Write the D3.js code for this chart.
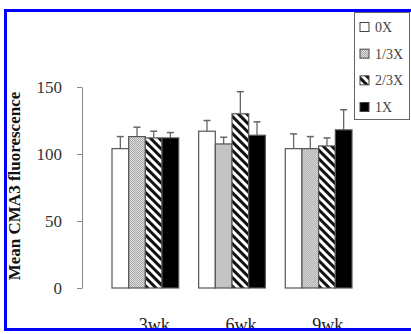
<!DOCTYPE html>
<html>
<head>
<meta charset="utf-8">
<script src="https://d3js.org/d3.v7.min.js"></script>
<style>
    body { margin: 0; background: white; }
    svg { display: block; }
    text { font-family: "Liberation Serif", "Times New Roman", serif; }
</style>
</head>
<body>
<svg id="chart" width="411" height="334"></svg>
<script>
    const groups = ["3wk", "6wk", "9wk"];
    const series = ["0X", "1/3X", "2/3X", "1X"];
    const means = {
        "0X":   [104, 117, 104],
        "1/3X": [113, 107.5, 104],
        "2/3X": [112, 130, 106],
        "1X":   [112, 114, 118]
    };
    const errs = {
        "0X":   [9, 8, 11],
        "1/3X": [7, 5, 9],
        "2/3X": [5, 16.5, 6],
        "1X":   [4, 10, 15]
    };
    const yTicks = [0, 50, 100, 150];

    const svg = d3.select("#chart");
    const defs = svg.append("defs");

    // light dotted grey fill
    const dots = defs.append("pattern").attr("id", "dots")
        .attr("width", 2).attr("height", 2).attr("patternUnits", "userSpaceOnUse");
    dots.append("rect").attr("width", 2).attr("height", 2).attr("fill", "#dedede");
    dots.append("rect").attr("width", 1).attr("height", 1).attr("fill", "#aaa");
    dots.append("rect").attr("x", 1).attr("y", 1).attr("width", 1).attr("height", 1).attr("fill", "#aaa");

    // diagonal stripes (top-left to bottom-right)
    const hatch = defs.append("pattern").attr("id", "hatch")
        .attr("width", 6).attr("height", 6).attr("patternUnits", "userSpaceOnUse")
        .attr("patternTransform", "rotate(-45)");
    hatch.append("rect").attr("width", 6).attr("height", 6).attr("fill", "white");
    hatch.append("rect").attr("width", 3).attr("height", 6).attr("fill", "#111");

    const fills = {"0X": "white", "1/3X": "url(#dots)", "2/3X": "url(#hatch)", "1X": "#000"};

    const y = d3.scaleLinear().domain([0, 150]).range([288, 87]);
    const x0 = d3.scaleBand().domain(groups).range([112, 352]).paddingInner(0.23).paddingOuter(0);
    const x1 = d3.scaleBand().domain(series).range([0, x0.bandwidth()]).padding(0);

    // y axis
    const yAxis = svg.append("g")
        .attr("transform", "translate(82,0)")
        .call(d3.axisLeft(y).tickValues(yTicks).tickSize(5).tickPadding(15).tickSizeOuter(0));
    yAxis.select(".domain").attr("stroke", "#888");
    yAxis.selectAll(".tick line").attr("stroke", "#888");
    yAxis.selectAll(".tick text")
        .attr("fill", "#333")
        .style("font-size", "17px")
        .style("font-family", "'Liberation Serif', serif");

    // y label
    svg.append("text")
        .attr("transform", "translate(20,186) rotate(-90)")
        .attr("text-anchor", "middle")
        .attr("fill", "#111")
        .style("font-size", "17px")
        .style("font-weight", "bold")
        .text("Mean CMA3 fluorescence");

    // bars
    const gGroups = svg.append("g").selectAll("g")
        .data(groups)
        .join("g")
        .attr("transform", d => `translate(${x0(d)},0)`);

    gGroups.each(function (g, gi) {
        const sel = d3.select(this);
        series.forEach(s => {
            const v = means[s][gi];
            const e = errs[s][gi];
            const cx = x1(s) + x1.bandwidth() / 2;
            sel.append("line")
                .attr("x1", cx).attr("x2", cx)
                .attr("y1", y(v)).attr("y2", y(v + e))
                .attr("stroke", "#666").attr("stroke-width", 1.3);
            sel.append("line")
                .attr("x1", cx - 3.5).attr("x2", cx + 3.5)
                .attr("y1", y(v + e)).attr("y2", y(v + e))
                .attr("stroke", "#666").attr("stroke-width", 1.5);
            sel.append("rect")
                .attr("x", x1(s))
                .attr("y", y(v))
                .attr("width", x1.bandwidth())
                .attr("height", y(0) - y(v))
                .attr("fill", fills[s])
                .attr("stroke", "#555")
                .attr("stroke-width", 1.2);
        });
    });

    // x labels
    svg.append("g").selectAll("text")
        .data(groups)
        .join("text")
        .attr("x", d => x0(d) + x0.bandwidth() / 2 + 9)
        .attr("y", 331)
        .attr("text-anchor", "middle")
        .attr("fill", "#222")
        .style("font-size", "18px")
        .text(d => d);

    // legend
    const leg = svg.append("g");
    leg.append("rect")
        .attr("x", 354.5).attr("y", 12.5)
        .attr("width", 55).attr("height", 107)
        .attr("fill", "white").attr("stroke", "#666").attr("stroke-width", 1);
    const legY = d3.scalePoint().domain(series).range([27, 107]);
    series.forEach(s => {
        leg.append("rect")
            .attr("x", 360).attr("y", legY(s) - 4.5)
            .attr("width", 9).attr("height", 9)
            .attr("fill", fills[s]).attr("stroke", "#444").attr("stroke-width", 1);
        leg.append("text")
            .attr("x", 375).attr("y", legY(s) + 5)
            .attr("fill", "#444")
            .style("font-size", "14px")
            .text(s);
    });

    // blue frame
    svg.append("path")
        .attr("d", "M411,10.5 H5.5 V329.5 H411")
        .attr("fill", "none")
        .attr("stroke", "#0000ff")
        .attr("stroke-width", 3);
</script>
</body>
</html>
